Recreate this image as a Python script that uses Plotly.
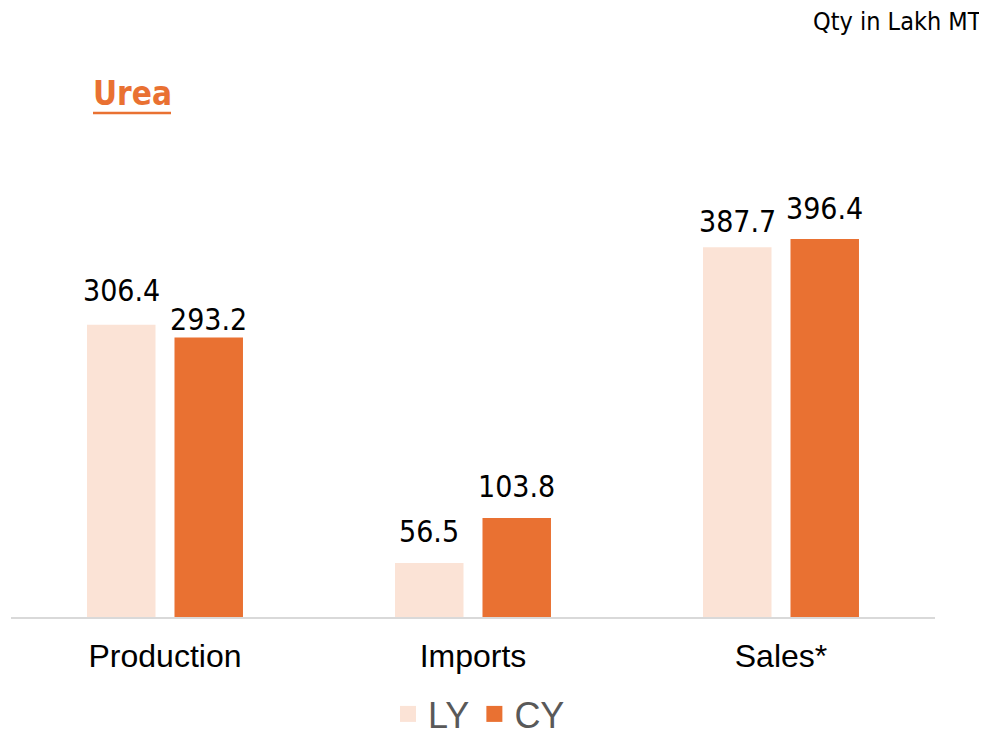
import plotly.graph_objects as go

categories = ["Production", "Imports", "Sales*"]
ly_values = [306.4, 56.5, 387.7]
cy_values = [293.2, 103.8, 396.4]
series_names = ["LY", "CY"]

# style: extra vertical offset of each value label above its bar (px)
ly_label_shift = [15, 12, 6]
cy_label_shift = [-2, 12, 11]

LY_COLOR = "#FBE3D6"
CY_COLOR = "#E97132"
NUM_FONT = "DejaVu Sans Condensed, Liberation Sans Narrow, sans-serif"
SANS = "Liberation Sans, Arial, sans-serif"

OFF = 8                   # page body margin offset
W, H = 987 - OFF, 735 - OFF
PL, PR = 11 - OFF, 935 - OFF          # plot area x-extent (figure px)
AX_Y, TOP_Y = 617 - OFF, 100 - OFF    # axis baseline and top of y-range (figure px)

def px(x):
    return (x - OFF - PL) / (PR - PL)

def py(y):
    return 1 - (y - OFF) / H

fig = go.Figure()
series = [(series_names[0], ly_values, LY_COLOR, ly_label_shift),
          (series_names[1], cy_values, CY_COLOR, cy_label_shift)]
for name, vals, col, _ in series:
    fig.add_trace(go.Bar(
        x=categories, y=vals, name=name, marker=dict(color=col, line=dict(width=0)),
        showlegend=False, cliponaxis=False,
    ))
# legend entries with larger square markers
for name, vals, col, _ in series:
    fig.add_trace(go.Scatter(
        x=[None], y=[None], mode="markers", name=name,
        marker=dict(symbol="square", size=18, color=col), showlegend=True,
    ))

annotations = []
slot_px = 87.5
for i, (name, vals, col, shifts) in enumerate(series):
    for c, v, s in zip(categories, vals, shifts):
        annotations.append(dict(
            x=c, y=v, xref="x", yref="y", text=f"{v:.1f}", showarrow=False,
            xanchor="center", yanchor="bottom", xshift=(i - 0.5) * slot_px, yshift=s,
            font=dict(family=NUM_FONT, size=30, color="#000000"),
        ))
annotations += [
    dict(text="<b>Urea</b>", xref="paper", yref="paper", x=px(91), y=py(72),
         xanchor="left", yanchor="top", showarrow=False,
         font=dict(family=NUM_FONT, size=33, color=CY_COLOR)),
    dict(text="Qty in Lakh MT", xref="paper", yref="paper", x=px(984), y=py(5),
         xanchor="right", yanchor="top", showarrow=False,
         font=dict(family=NUM_FONT, size=25, color="#000000")),
]

shapes = [dict(type="line", xref="paper", yref="paper", x0=px(93), x1=px(171), y0=py(113), y1=py(113),
               line=dict(color=CY_COLOR, width=2.5))]

fig.update_layout(
    width=W, height=H,
    paper_bgcolor="white", plot_bgcolor="white",
    barmode="group", bargap=0.432, bargroupgap=0.217,
    margin=dict(l=PL, r=W - PR, t=0, b=0, autoexpand=False),
    showlegend=True,
    legend=dict(orientation="h", x=px(479), xanchor="center", y=py(714), yanchor="middle",
                font=dict(family=SANS, size=36, color="#595959"),
                itemwidth=30, traceorder="normal", bgcolor="rgba(0,0,0,0)"),
    xaxis=dict(showgrid=False, showline=True, linecolor="#D9D9D9", linewidth=2,
               ticks="", automargin=False, ticklabelstandoff=10,
               tickfont=dict(family=SANS, size=32, color="#000000")),
    yaxis=dict(visible=False, range=[0, (AX_Y - TOP_Y) / 0.9536], showgrid=False, zeroline=False,
               domain=[(H - AX_Y) / H, 1 - TOP_Y / H]),
    annotations=annotations,
    shapes=shapes,
)

fig.write_html("out.html")
